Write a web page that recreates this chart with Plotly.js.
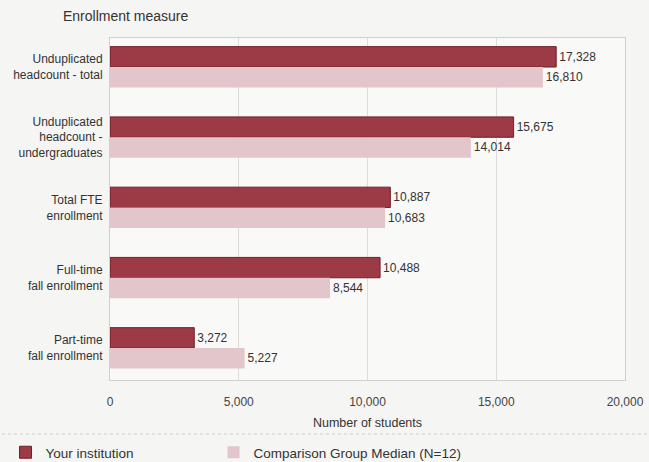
<!DOCTYPE html>
<html>
<head>
<meta charset="utf-8">
<script src="https://cdn.plot.ly/plotly-3.0.1.min.js"></script>
<style>html,body{margin:0;padding:0;background:#f5f5f3;}#chart{width:649px;height:462px;}</style>
</head>
<body>
<div id="chart"></div>
<script>
const categories = [
  "Unduplicated<br>headcount - total",
  "Unduplicated<br>headcount -<br>undergraduates",
  "Total FTE<br>enrollment",
  "Full-time<br>fall enrollment",
  "Part-time<br>fall enrollment"
];
const yourInstitution = [17328, 15675, 10887, 10488, 3272];
const comparisonMedian = [16810, 14014, 10683, 8544, 5227];
const seriesNames = ["Your institution", "Comparison Group Median (N=12)"];
const xTicks = [0, 5000, 10000, 15000, 20000];
const xTickLabels = ["0", "5,000", "10,000", "15,000", "20,000"];

const font = "Liberation Sans, Arial, sans-serif";
const traces = [
  {
    type: "bar", orientation: "h", name: seriesNames[0],
    y: categories, x: yourInstitution,
    marker: {color: "#9c3a45", line: {color: "#6f2029", width: 1}},
    texttemplate: "%{x:,}", textposition: "outside", cliponaxis: false,
    textfont: {size: 12, color: "#333", family: font},
    legendwidth: 163
  },
  {
    type: "bar", orientation: "h", name: seriesNames[1],
    y: categories, x: comparisonMedian,
    marker: {color: "#e3c6cc", line: {width: 0}},
    texttemplate: "%{x:,}", textposition: "outside", cliponaxis: false,
    textfont: {size: 12, color: "#333", family: font},
    legendwidth: 240
  }
];

const layout = {
  width: 649, height: 462,
  margin: {l: 110, r: 24, t: 38, b: 82},
  paper_bgcolor: "#f5f5f3",
  plot_bgcolor: "#f9f9f7",
  font: {family: font, color: "#333", size: 12},
  barmode: "group",
  bargap: 0.42,
  bargroupgap: 0,
  showlegend: true,
  xaxis: {
    range: [0, 20000], tickvals: xTicks, ticktext: xTickLabels,
    showgrid: true, gridcolor: "#dcdcdc", zeroline: false,
    showline: true, linecolor: "#d0d0d0", mirror: true,
    ticks: "", ticklabelstandoff: 11,
    tickfont: {size: 12, color: "#444"},
    title: {text: "Number of students", font: {size: 12.5, color: "#333"}, standoff: 9}
  },
  yaxis: {
    type: "category", categoryorder: "array", categoryarray: categories,
    range: [4.455, -0.413],
    showgrid: false, zeroline: false,
    showline: true, linecolor: "#d0d0d0", mirror: true,
    ticks: "", ticklabelstandoff: 4,
    tickfont: {size: 12, color: "#333"}
  },
  legend: {
    orientation: "h", xref: "container", yref: "container",
    x: 0.0085, y: 0.0206, xanchor: "left", yanchor: "middle",
    entrywidth: 163, entrywidthmode: "pixels",
    font: {size: 13.5, color: "#333"}, bgcolor: "rgba(0,0,0,0)"
  },
  annotations: [{
    text: "Enrollment measure", xref: "paper", yref: "paper",
    x: 0.031, y: 1.064, xanchor: "center", yanchor: "middle",
    showarrow: false, font: {size: 14, color: "#333"}
  }],
  shapes: [{
    type: "line", xref: "paper", yref: "paper",
    x0: -0.21, x1: 1.045, y0: -0.158, y1: -0.158,
    line: {color: "#cfcfcf", width: 1, dash: "dot"}
  }]
};

Plotly.newPlot("chart", traces, layout, {displayModeBar: false, staticPlot: true});
</script>
</body>
</html>
